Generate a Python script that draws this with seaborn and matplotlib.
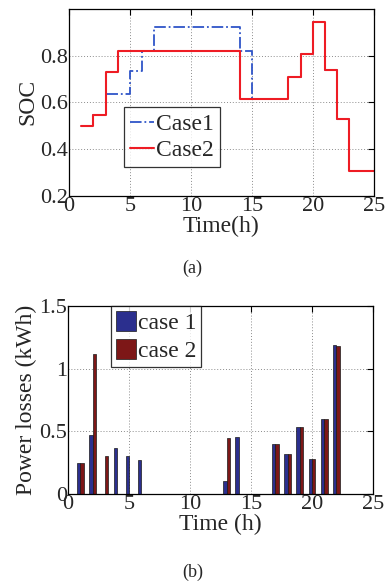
import matplotlib
matplotlib.use("Agg")
import matplotlib.pyplot as plt
import seaborn as sns
import numpy as np
import pandas as pd

# --- data ---
hours_soc = list(range(1, 26))
soc_case1 = [0.50, 0.545, 0.637, 0.637, 0.732, 0.821,
             0.924, 0.924, 0.924, 0.924, 0.924, 0.924, 0.924,
             0.821, 0.613, 0.613, 0.613,
             0.707, 0.806, 0.944, 0.739, 0.53, 0.308, 0.308, 0.308]
soc_case2 = [0.50, 0.545, 0.729,
             0.821, 0.821, 0.821, 0.821, 0.821, 0.821, 0.821, 0.821, 0.821, 0.821,
             0.613, 0.613, 0.613, 0.613,
             0.707, 0.806, 0.944, 0.739, 0.53, 0.308, 0.308, 0.308]

hours_loss = list(range(1, 25))
loss_case1 = [0.248, 0.472, 0.0, 0.363, 0.30, 0.267, 0, 0, 0, 0, 0, 0,
              0.10, 0.451, 0, 0, 0.395, 0.315, 0.533, 0.28, 0.60, 1.188, 0, 0]
loss_case2 = [0.248, 1.115, 0.30, 0.0, 0.0, 0.0, 0, 0, 0, 0, 0, 0,
              0.447, 0.0, 0, 0, 0.395, 0.315, 0.533, 0.28, 0.597, 1.18, 0, 0]

sns.set_style("white")
plt.rcParams['font.family'] = ['Liberation Serif', 'DejaVu Serif']

fig = plt.figure(figsize=(3.85, 5.85), dpi=100)
ax1 = fig.add_axes([0.179, 0.665, 0.792, 0.32])
ax2 = fig.add_axes([0.177, 0.156, 0.792, 0.321])

FS = 16   # tick labels
LFS = 17  # axis labels / legend

def style_axes(ax):
    ax.grid(True, linestyle=(0, (1, 2)), color='#8c8c8c', linewidth=0.7)
    ax.set_axisbelow(True)
    ax.tick_params(direction='in', length=4, width=0.8, top=True, right=True,
                   labelsize=FS, pad=1, color='black')
    for s in ax.spines.values():
        s.set_color('black')
        s.set_linewidth(0.9)

# --- (a) SOC ---
sns.lineplot(x=hours_soc, y=soc_case1, ax=ax1, drawstyle='steps-post',
             color='#2f55c8', linestyle='-.', linewidth=1.3, label='Case1')
sns.lineplot(x=hours_soc, y=soc_case2, ax=ax1, drawstyle='steps-post',
             color='#ee1c24', linestyle='-', linewidth=1.5, label='Case2')
ax1.set_xlim(0, 25)
ax1.set_ylim(0.2, 1.0)
ax1.set_xticks([0, 5, 10, 15, 20, 25])
ax1.set_yticks([0.2, 0.4, 0.6, 0.8])
ax1.set_yticklabels(['0.2', '0.4', '0.6', '0.8'])
style_axes(ax1)
ax1.set_xlabel('Time(h)', fontsize=LFS, labelpad=0)
ax1.set_ylabel('SOC', fontsize=LFS, labelpad=1)
leg1 = ax1.legend(loc='lower left', bbox_to_anchor=(0.182, 0.155), fontsize=LFS,
                  frameon=True, fancybox=False, edgecolor='black',
                  handlelength=1.0, handletextpad=0.1, borderpad=0.25,
                  labelspacing=0.2, borderaxespad=0)
leg1.get_frame().set_linewidth(0.9)

# --- (b) power losses ---
df = pd.DataFrame({
    'hour': hours_loss * 2,
    'loss': loss_case1 + loss_case2,
    'case': ['case 1'] * len(hours_loss) + ['case 2'] * len(hours_loss),
})
sns.barplot(data=df, x='hour', y='loss', hue='case', native_scale=True,
            palette=['#2b2f8e', '#7d1717'], width=0.56, edgecolor='#1a1a1a',
            linewidth=0.5, ax=ax2, saturation=1, errorbar=None)
ax2.set_xlim(0, 25)
ax2.set_ylim(0, 1.5)
ax2.set_xticks([0, 5, 10, 15, 20, 25])
ax2.set_xticklabels(['0', '5', '10', '15', '20', '25'])
ax2.set_yticks([0, 0.5, 1, 1.5])
ax2.set_yticklabels(['0', '0.5', '1', '1.5'])
style_axes(ax2)
ax2.set_xlabel('Time (h)', fontsize=LFS, labelpad=0)
ax2.set_ylabel('Power losses (kWh)', fontsize=LFS, labelpad=1)
handles, labels = ax2.get_legend_handles_labels()
leg2 = ax2.legend(handles, labels, loc='upper left', bbox_to_anchor=(0.14, 1.0),
                  fontsize=LFS, frameon=True, fancybox=False, edgecolor='black',
                  handlelength=0.85, handleheight=0.95, handletextpad=0.1,
                  borderpad=0.2, labelspacing=0.2, borderaxespad=0, title=None)
leg2.get_frame().set_linewidth(0.9)

fig.text(0.5, 1 - 268 / 585, '(a)', ha='center', va='center', fontsize=13)
fig.text(0.5, 1 - 572 / 585, '(b)', ha='center', va='center', fontsize=13)

fig.savefig('out.png', dpi=100)
